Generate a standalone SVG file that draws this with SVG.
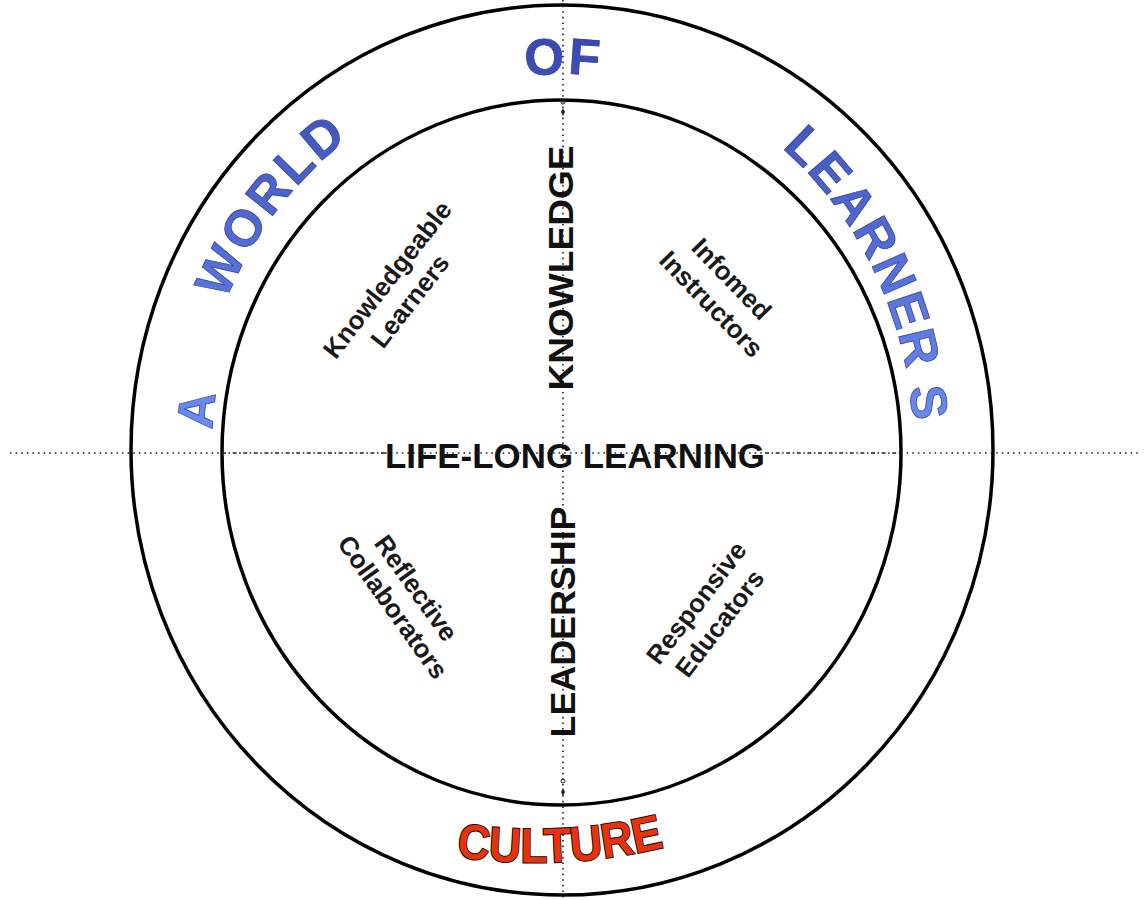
<svg xmlns="http://www.w3.org/2000/svg" width="1145" height="900" viewBox="0 0 1145 900">
  <defs>
    <linearGradient id="blueGrad" gradientUnits="userSpaceOnUse" x1="0" y1="40" x2="0" y2="430">
      <stop offset="0" stop-color="#3a49b0"/>
      <stop offset="1" stop-color="#6a8cf0"/>
    </linearGradient>
    <path id="arcPath" d="M 212,451 A 350,377 0 0 1 912,451"/>
    <path id="arcWorld" d="M 197,451 A 365,385 0 0 1 927,451"/>
    <path id="arcLearners" d="M 210,451 A 352,388 0 0 1 914,451"/>
    <path id="culturePath" d="M 440,854 Q 560,876 685,842"/>
  </defs>
  <style>
    .ring { fill: none; stroke: #000; stroke-width: 3.5; }
    .dots { fill: none; stroke: #222; stroke-width: 1.6; stroke-dasharray: 1.6 4; }
    .dashdot { fill: none; stroke: #222; stroke-width: 1.6; stroke-dasharray: 4 2.5 1.6 2.5; }
    .big { font-family: "Liberation Sans", Arial, sans-serif; font-weight: bold; font-size: 35px; fill: #111; }
    .quad { font-family: "Liberation Sans", Arial, sans-serif; font-weight: bold; font-size: 26px; fill: #1a1a1a; text-anchor: middle; }
    .arc { font-family: "Liberation Sans", Arial, sans-serif; font-weight: bold; font-size: 51px; fill: url(#blueGrad); stroke: #3444a4; stroke-width: 0.8; }
    .culture { font-family: "Liberation Sans", Arial, sans-serif; font-weight: bold; font-size: 49px; fill: #e8320c; stroke: #000; stroke-width: 1.8; paint-order: stroke; }
  </style>
  <rect width="1145" height="900" fill="#fff"/>

  <g id="outer-ring">
    <ellipse class="ring" cx="562" cy="450" rx="431" ry="445"/>
  </g>
  <g id="inner-circle">
    <ellipse class="ring" cx="561.5" cy="452.5" rx="339.5" ry="352.5"/>
  </g>

  <g id="connectors">
    <line class="dots" x1="10" y1="453" x2="222" y2="453"/>
    <line class="dashdot" x1="222" y1="453" x2="385" y2="453"/>
    <line class="dots" x1="385" y1="453" x2="765" y2="453"/>
    <line class="dashdot" x1="765" y1="453" x2="901" y2="453"/>
    <line class="dots" x1="901" y1="453" x2="1140" y2="453"/>
    <line class="dots" x1="563" y1="0" x2="563" y2="900"/>
    <circle cx="563" cy="102" r="2" fill="none" stroke="#222" stroke-width="1"/>
    <path d="M563,108 l2,4 l-2,4 l-2,-4 z" fill="#222"/>
    <circle cx="563" cy="781" r="2" fill="none" stroke="#222" stroke-width="1"/>
    <path d="M563,788 l2,4 l-2,4 l-2,-4 z" fill="#222"/>
  </g>

  <g id="arc-title">
    <text class="arc"><textPath href="#arcPath" startOffset="21">A</textPath></text>
    <text class="arc" letter-spacing="3"><textPath href="#arcWorld" startOffset="154">WORLD</textPath></text>
    <text class="arc" letter-spacing="3"><textPath href="#arcPath" startOffset="534">OF</textPath></text>
    <text class="arc" letter-spacing="2"><textPath href="#arcLearners" startOffset="822">LEARNER<tspan dx="16">S</tspan></textPath></text>
  </g>

  <g id="knowledge">
    <text class="big" text-anchor="middle" transform="translate(573,268) rotate(-90)" textLength="245" lengthAdjust="spacingAndGlyphs">KNOWLEDGE</text>
  </g>
  <g id="leadership">
    <text class="big" text-anchor="middle" transform="translate(575,622) rotate(-90)" textLength="231" lengthAdjust="spacingAndGlyphs">LEADERSHIP</text>
  </g>
  <g id="life-long-learning">
    <text class="big" x="575" y="468" text-anchor="middle" textLength="380" lengthAdjust="spacingAndGlyphs">LIFE-LONG LEARNING</text>
  </g>

  <g id="knowledgeable-learners" transform="translate(399.5,289) rotate(-52)">
    <text class="quad" x="0" y="-6.5">Knowledgeable</text>
    <text class="quad" x="-3" y="24.5">Learners</text>
  </g>
  <g id="informed-instructors" transform="translate(721.5,291.5) rotate(46)">
    <text class="quad" x="-2" y="-7">Infomed</text>
    <text class="quad" x="2" y="25">Instructors</text>
  </g>
  <g id="reflective-collaborators" transform="translate(404.5,597.5) rotate(54.5)">
    <text class="quad" x="-1" y="-6">Reflective</text>
    <text class="quad" x="1" y="24">Collaborators</text>
  </g>
  <g id="responsive-educators" transform="translate(708,613) rotate(-52.5)">
    <text class="quad" x="1" y="-6.5">Responsive</text>
    <text class="quad" x="-1" y="24.5">Educators</text>
  </g>

  <g id="culture">
    <text class="culture" text-anchor="middle"><textPath href="#culturePath" startOffset="49%" textLength="210" lengthAdjust="spacingAndGlyphs">CULTURE</textPath></text>
  </g>
</svg>
